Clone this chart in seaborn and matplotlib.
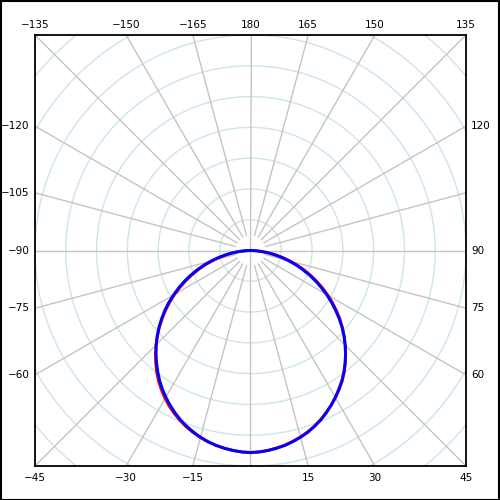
import numpy as np
import pandas as pd
import matplotlib
matplotlib.use("Agg")
import matplotlib.pyplot as plt
import seaborn as sns

# angle (deg, 0 = down, counter-clockwise) and radius (grid units)
angles = list(np.arange(-90, 90.1, 2.5))
blue_r = [0, 0.17, 0.38, 0.61, 0.84, 1.08, 1.33, 1.59, 1.85, 2.11, 2.37, 2.63, 2.89,
          3.15, 3.40, 3.64, 3.88, 4.11, 4.33, 4.54, 4.75, 4.95, 5.15, 5.33, 5.50,
          5.66, 5.81, 5.95, 6.07, 6.18, 6.28, 6.36, 6.43, 6.48, 6.52, 6.55, 6.56,
          6.55, 6.52, 6.48, 6.43, 6.36, 6.28, 6.19, 6.08, 5.96, 5.82, 5.67, 5.51,
          5.34, 5.17, 4.98, 4.78, 4.57, 4.35, 4.12, 3.88, 3.63, 3.37, 3.11, 2.85,
          2.58, 2.32, 2.06, 1.80, 1.54, 1.28, 1.03, 0.79, 0.56, 0.34, 0.15, 0]
red_r = [0, 0.14, 0.33, 0.55, 0.78, 1.02, 1.27, 1.53, 1.79, 2.05, 2.31, 2.58, 2.84,
         3.10, 3.36, 3.61, 3.86, 4.10, 4.34, 4.57, 4.79, 5.00, 5.20, 5.38, 5.55,
         5.71, 5.85, 5.98, 6.10, 6.20, 6.29, 6.37, 6.43, 6.48, 6.52, 6.55, 6.57,
         6.55, 6.52, 6.47, 6.42, 6.35, 6.27, 6.18, 6.07, 5.95, 5.81, 5.67, 5.52,
         5.36, 5.19, 5.00, 4.79, 4.57, 4.35, 4.13, 3.90, 3.66, 3.41, 3.16, 2.90,
         2.64, 2.38, 2.12, 1.86, 1.60, 1.34, 1.09, 0.84, 0.61, 0.38, 0.18, 0]

top_labels = [-135, -150, -165, 180, 165, 150, 135]
bottom_labels = [-45, -30, -15, 15, 30, 45]
left_labels = [-120, -105, -90, -75, -60]
right_labels = [120, 90, 75, 60]

grid_radii = list(range(1, 11))
spoke_angles = list(range(-165, 181, 15))
LIM = 7.0


def to_xy(theta_deg, r):
    t = np.radians(np.asarray(theta_deg, dtype=float))
    r = np.asarray(r, dtype=float)
    return r * np.sin(t), -r * np.cos(t)


rows = []
for name, radii in [("red", red_r), ("blue", blue_r)]:
    x, y = to_xy(angles, radii)
    for i in range(len(angles)):
        rows.append({"series": name, "x": x[i], "y": y[i]})
df = pd.DataFrame(rows)

sns.set_style("white")
plt.rcParams["font.family"] = ["DejaVu Sans"]
plt.rcParams["text.color"] = "black"

fig = plt.figure(figsize=(5, 5), dpi=100)
ax = fig.add_axes([0.07, 0.068, 0.862, 0.862])

# grid circles
phi = np.linspace(0, 2 * np.pi, 721)
for rr in grid_radii:
    ax.plot(rr * np.cos(phi), rr * np.sin(phi), color="#cde5ea", lw=1, zorder=1)

# spokes
for a in spoke_angles:
    r0 = 0 if a % 90 == 0 else 0.5
    x, y = to_xy([a, a], [r0, 12])
    ax.plot(x, y, color="#c4c4c4", lw=1, zorder=1)

sns.lineplot(data=df, x="x", y="y", hue="series", palette={"red": "#ff0000", "blue": "#0000ff"},
             sort=False, estimator=None, units="series", lw=2.1, legend=False, ax=ax, zorder=3)

ax.set_xlim(-LIM, LIM)
ax.set_ylim(-LIM, LIM)
ax.set_aspect("equal")
ax.set_xticks([])
ax.set_yticks([])
ax.set_xlabel("")
ax.set_ylabel("")
for s in ax.spines.values():
    s.set_visible(True)
    s.set_color("black")
    s.set_linewidth(1.3)


def fmt(v):
    return str(v).replace("-", "\u2212")


fs = 7.5
for a in top_labels:
    t = np.radians(a)
    xv = LIM * np.sin(t) / -np.cos(t)
    ax.text(xv, LIM + 0.33, fmt(a), ha="center", va="center", fontsize=fs, clip_on=False)
for a in bottom_labels:
    t = np.radians(a)
    xv = -LIM * np.sin(t) / -np.cos(t)
    ax.text(xv, -LIM - 0.4, fmt(a), ha="center", va="center", fontsize=fs, clip_on=False)
for a in left_labels:
    t = np.radians(a)
    yv = -LIM * -np.cos(t) / np.sin(t)
    ax.text(-LIM - 0.17, yv, fmt(a), ha="right", va="center", fontsize=fs, clip_on=False)
for a in right_labels:
    t = np.radians(a)
    yv = LIM * -np.cos(t) / np.sin(t)
    ax.text(LIM + 0.17, yv, fmt(a), ha="left", va="center", fontsize=fs, clip_on=False)

# outer border of the picture
fig.patches.append(plt.Rectangle((0.001, 0.001), 0.997, 0.997, transform=fig.transFigure,
                                 fill=False, edgecolor="black", lw=1.5))

fig.savefig("out.png", dpi=100, facecolor="white")
